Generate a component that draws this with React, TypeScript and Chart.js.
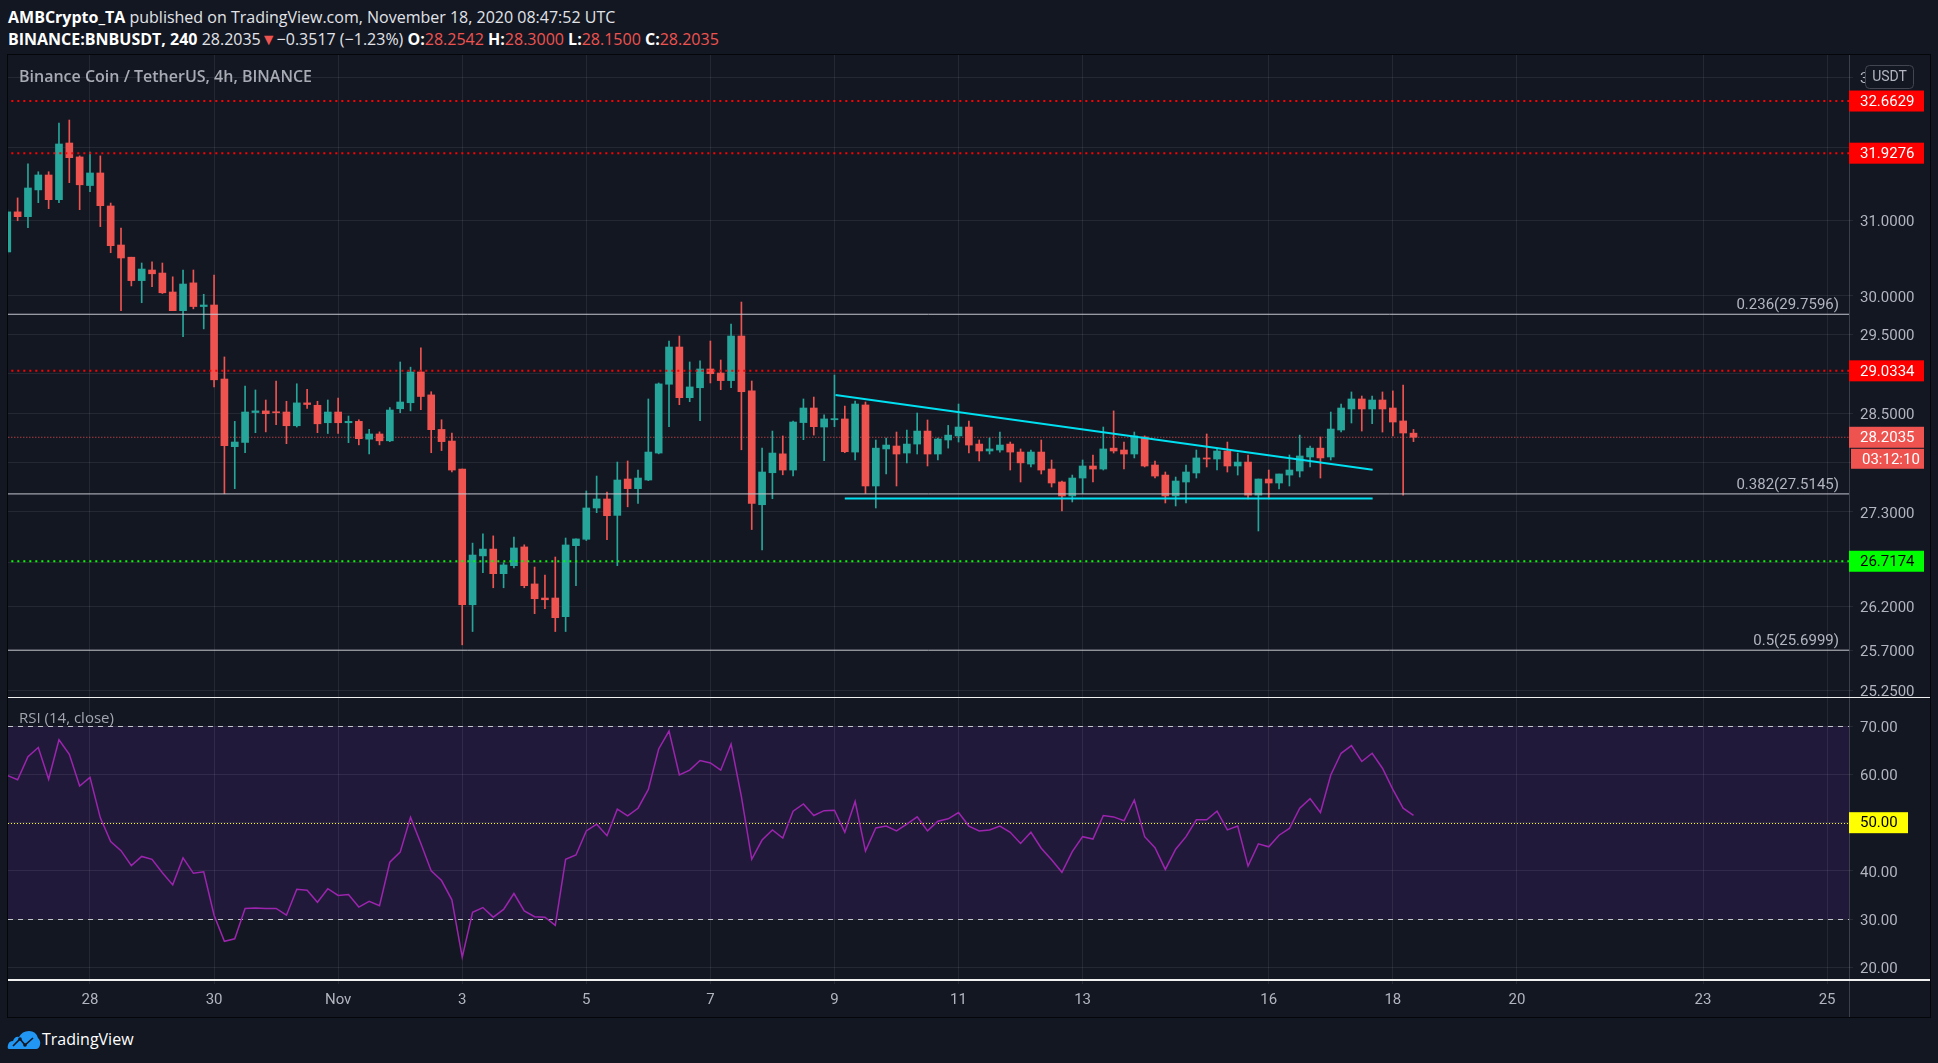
import React, { useEffect, useRef } from 'react';
import { Chart, registerables } from 'chart.js';

Chart.register(...registerables);

// 4h candles, index 0 = 28 Oct 00:00 UTC, first visible candle = index -8
const firstIndex = -8;
const opens = [
  30.58, 31.12, 31.055, 31.42, 31.625, 31.286, 32.07, 31.875,
  31.48, 31.653, 31.2, 30.673, 30.51, 30.2, 30.34, 30.3, 30.05, 29.806, 30.17, 29.86,
  29.88, 28.93, 28.088, 28.14, 28.51, 28.53, 28.516, 28.516, 28.346, 28.63, 28.6, 28.383,
  28.516, 28.383, 28.4, 28.18, 28.244, 28.16, 28.557, 28.632, 29.019, 28.73, 28.3, 28.157,
  27.815, 26.215, 26.78, 26.86, 26.573, 26.666, 26.885, 26.454, 26.292, 26.292, 26.079, 26.9,
  26.975, 27.346, 27.454, 27.258, 27.694, 27.578, 27.682, 28.01, 28.864, 29.337, 28.695, 28.82,
  29.057, 29.006, 28.91, 29.478, 28.78, 27.385, 27.77, 28.0, 27.803, 28.385, 28.566, 28.33,
  28.42, 28.43, 28.022, 28.604, 27.61, 28.06, 28.096, 28.01, 28.12, 28.28, 27.998, 28.17,
  28.22, 28.33, 28.12, 28.035, 28.047, 28.12, 28.022, 27.876, 28.022, 27.815, 27.658, 27.49,
  27.706, 27.852, 27.815, 28.07, 28.047, 27.998, 28.207, 27.864, 27.742, 27.49, 27.658, 27.767,
  27.95, 27.937, 28.035, 27.852, 27.9, 27.5, 27.694, 27.646, 27.742, 27.791, 27.962, 28.07,
  27.962, 28.293, 28.554, 28.679, 28.554, 28.666, 28.566, 28.405, 28.2542
];
const highs = [
  31.15, 31.31, 31.78, 31.67, 31.67, 32.35, 32.393, 31.89,
  31.944, 31.89, 31.24, 30.9, 30.51, 30.433, 30.447, 30.433, 30.25, 30.34, 30.34, 30.02,
  30.274, 29.21, 28.4, 28.84, 28.792, 28.666, 28.905, 28.65, 28.87, 28.8, 28.65, 28.666,
  28.69, 28.466, 28.42, 28.3, 28.27, 28.57, 29.146, 29.08, 29.325, 28.77, 28.42, 28.256,
  27.815, 26.93, 27.038, 27.015, 26.7, 27.0, 26.91, 26.65, 26.558, 26.767, 26.99, 26.98,
  27.55, 27.73, 27.538, 27.9, 27.913, 27.803, 28.679, 28.88, 29.414, 29.478, 29.146, 29.16,
  29.414, 29.171, 29.633, 29.919, 28.905, 28.07, 28.28, 28.22, 28.405, 28.679, 28.703, 28.48,
  28.981, 28.59, 28.654, 28.641, 28.17, 28.195, 28.268, 28.293, 28.504, 28.417, 28.195, 28.35,
  28.616, 28.405, 28.17, 28.195, 28.268, 28.145, 28.06, 28.047, 28.17, 27.925, 27.67, 27.742,
  27.925, 27.986, 28.33, 28.53, 28.145, 28.268, 28.22, 27.913, 27.779, 27.718, 27.864, 28.047,
  28.244, 28.07, 28.145, 28.01, 27.986, 27.694, 27.803, 27.755, 27.986, 28.23, 28.096, 28.207,
  28.516, 28.616, 28.767, 28.716, 28.716, 28.767, 28.78, 28.855, 28.3
];
const lows = [
  30.55, 31.0, 30.905, 31.245, 31.164, 31.245, 31.519, 31.15,
  31.396, 30.92, 30.57, 29.806, 30.13, 29.91, 30.12, 30.03, 29.806, 29.47, 29.83, 29.57,
  28.83, 27.517, 27.578, 28.014, 28.26, 28.27, 28.36, 28.125, 28.33, 28.56, 28.26, 28.25,
  28.25, 28.137, 28.11, 28.0, 28.11, 28.15, 28.507, 28.53, 28.545, 28.014, 28.04, 27.78,
  25.76, 25.91, 26.585, 26.41, 26.41, 26.64, 26.41, 26.113, 26.17, 25.91, 25.91, 26.434,
  26.96, 27.29, 26.97, 26.666, 27.36, 27.4, 27.674, 28.0, 28.334, 28.607, 28.645, 28.408,
  28.88, 28.796, 28.82, 28.05, 27.09, 26.85, 27.457, 27.745, 27.733, 28.174, 28.23, 27.916,
  28.334, 28.014, 27.925, 27.52, 27.346, 27.755, 27.61, 27.89, 27.998, 27.852, 27.925, 28.07,
  28.145, 28.01, 27.913, 27.998, 28.022, 27.803, 27.658, 27.84, 27.755, 27.598, 27.31, 27.418,
  27.52, 27.658, 27.803, 28.01, 27.815, 27.95, 27.84, 27.706, 27.406, 27.37, 27.406, 27.706,
  27.84, 27.803, 27.779, 27.742, 27.454, 27.073, 27.454, 27.574, 27.61, 27.718, 27.84, 27.706,
  27.925, 28.268, 28.38, 28.28, 28.37, 28.268, 28.22, 27.5, 28.15
];
const closes = [
  31.12, 31.055, 31.446, 31.625, 31.286, 32.056, 31.865, 31.49,
  31.653, 31.204, 30.664, 30.5, 30.2, 30.353, 30.29, 30.04, 29.806, 30.155, 29.86, 29.88,
  28.92, 28.1, 28.145, 28.516, 28.53, 28.495, 28.507, 28.346, 28.63, 28.61, 28.37, 28.516,
  28.383, 28.4, 28.186, 28.244, 28.16, 28.541, 28.641, 29.019, 28.71, 28.297, 28.15, 27.803,
  26.215, 26.79, 26.86, 26.573, 26.674, 26.873, 26.434, 26.284, 26.272, 26.067, 26.908, 26.979,
  27.346, 27.454, 27.254, 27.682, 27.578, 27.706, 28.022, 28.868, 29.337, 28.695, 28.83, 29.057,
  28.997, 28.91, 29.478, 28.77, 27.4, 27.779, 28.01, 27.803, 28.392, 28.566, 28.334, 28.43,
  28.434, 28.026, 28.616, 27.61, 28.07, 28.108, 27.998, 28.12, 28.28, 27.998, 28.182, 28.23,
  28.33, 28.108, 28.035, 28.06, 28.108, 28.022, 27.89, 28.022, 27.803, 27.646, 27.49, 27.706,
  27.852, 27.815, 28.06, 28.035, 27.998, 28.22, 27.852, 27.73, 27.49, 27.67, 27.779, 27.95,
  27.937, 28.035, 27.852, 27.9, 27.5, 27.694, 27.646, 27.755, 27.803, 27.974, 28.07, 27.95,
  28.305, 28.566, 28.679, 28.554, 28.666, 28.554, 28.392, 28.256, 28.2035
];
const rsiValues = [
  59.8, 58.9, 63.7, 65.6, 59.0, 67.2, 64.2, 57.6,
  59.4, 51.0, 46.1, 44.2, 41.1, 43.0, 42.4, 39.6, 37.1, 42.7, 39.5, 39.8,
  30.8, 25.4, 25.9, 32.2, 32.3, 32.2, 32.2, 30.8, 36.2, 36.0, 33.5, 36.3,
  34.9, 35.1, 32.5, 33.7, 32.8, 41.8, 43.9, 51.1, 45.7, 40.0, 38.0, 34.0,
  22.1, 31.4, 32.4, 30.4, 32.0, 35.3, 31.7, 30.5, 30.4, 28.7, 42.4, 43.3,
  48.3, 49.7, 47.3, 52.8, 51.4, 53.0, 56.9, 65.3, 69.0, 59.9, 60.9, 62.9,
  62.4, 60.9, 66.3, 55.4, 42.4, 46.4, 48.5, 46.8, 52.4, 53.9, 51.5, 52.5,
  52.6, 48.0, 54.4, 44.1, 48.9, 49.3, 48.3, 49.7, 51.2, 48.3, 50.3, 50.8,
  52.1, 49.3, 48.3, 48.5, 49.3, 48.0, 45.7, 48.0, 44.7, 42.3, 39.7, 44.0,
  47.1, 46.6, 51.5, 51.2, 50.4, 54.7, 47.1, 44.8, 40.3, 44.5, 47.1, 50.6,
  50.6, 52.4, 48.5, 49.3, 41.0, 45.6, 45.0, 47.4, 48.8, 53.0, 55.0, 52.1,
  59.9, 64.4, 66.0, 62.7, 64.4, 61.3, 56.9, 53.0, 51.5
];

// time axis (days after 28 Oct) and labels
const tickDays = [0, 2, 4, 6, 8, 10, 12, 14, 16, 19, 21, 23, 26, 28];
const tickLabels = ['28', '30', 'Nov', '3', '5', '7', '9', '11', '13', '16', '18', '20', '23', '25'];
const barsPerDay = 6;

const priceTicks = [25.25, 25.7, 26.2, 26.7, 27.3, 27.9, 28.5, 29, 29.5, 30, 31, 32, 33];
const hiddenPriceLabels = [26.7, 27.9, 29, 32];
const rsiTicks = [20, 30, 40, 50, 60, 70];

const resistanceLevels = [32.6629, 31.9276, 29.0334];
const supportLevels = [26.7174];
const fibRatios = ['0.236', '0.382', '0.5'];
const fibPrices = [29.7596, 27.5145, 25.6999];
const lastPrice = 28.2035;
const countdown = '03:12:10';
const trendX = [72.1, 124.05];
const trendY = [28.73, 27.807];
const baseX = [73.0, 124.05];
const baseY = [27.46, 27.46];

const X_MIN = -7.93;
const X_MAX = 170.12;
const P_MIN = 25.18;
const P_MAX = 33.326;
const R_MIN = 17.57;
const R_MAX = 75.87;

const BG = '#131722';
const GRID = 'rgba(255,255,255,0.075)';
const UP = '#26a69a';
const DOWN = '#ef5350';
const AXIS_TEXT = '#b2b5be';
const AXIS_FONT = 'Roboto, "Liberation Sans", sans-serif';

function hLine(price: number, color: string, width: number, dash: number[], order: number) {
  return {
    type: 'line' as const,
    data: [{ x: X_MIN - 2, y: price }, { x: X_MAX + 2, y: price }],
    borderColor: color,
    borderWidth: width,
    borderDash: dash,
    pointRadius: 0,
    order,
  };
}

function axisBox(ctx: CanvasRenderingContext2D, x: number, y: number, w: number, h: number, fill: string, text: string, textColor: string) {
  ctx.fillStyle = fill;
  ctx.fillRect(x, y, w, h);
  ctx.fillStyle = textColor;
  ctx.font = `15px ${AXIS_FONT}`;
  ctx.textAlign = 'left';
  ctx.textBaseline = 'middle';
  ctx.fillText(text, x + 11, y + h / 2 + 1);
}

const pricePlugin = {
  id: 'priceDecor',
  afterDraw(chart: any) {
    const { ctx, chartArea, scales } = chart;
    const y = scales.y;
    ctx.save();
    ctx.font = `15px ${AXIS_FONT}`;
    ctx.fillStyle = AXIS_TEXT;
    ctx.textAlign = 'right';
    ctx.textBaseline = 'middle';
    fibPrices.forEach((p, k) => {
      ctx.fillText(`${fibRatios[k]}(${p.toFixed(4)})`, chartArea.right - 10, y.getPixelForValue(p) - 9);
    });
    const bx = chartArea.right;
    resistanceLevels.forEach((p) => {
      const py = y.getPixelForValue(p);
      axisBox(ctx, bx, py - 10.5, 75, 21, '#ff0000', p.toFixed(4), '#ffffff');
    });
    supportLevels.forEach((p) => {
      const py = y.getPixelForValue(p);
      axisBox(ctx, bx, py - 10.5, 75, 21, '#00ff00', p.toFixed(4), '#000000');
    });
    const ly = y.getPixelForValue(lastPrice);
    axisBox(ctx, bx, ly - 10.5, 75, 21, DOWN, lastPrice.toFixed(4), '#ffffff');
    axisBox(ctx, bx + 2, ly + 11.5, 73, 20, DOWN, countdown, '#ffffff');
    const rx = chartArea.right + 16, ry = 10, rw = 48, rh = 23;
    ctx.fillStyle = BG;
    ctx.strokeStyle = '#434651';
    ctx.lineWidth = 1;
    ctx.beginPath();
    ctx.roundRect(rx + 0.5, ry + 0.5, rw, rh, 4);
    ctx.fill();
    ctx.stroke();
    ctx.fillStyle = AXIS_TEXT;
    ctx.textAlign = 'center';
    ctx.font = `14px ${AXIS_FONT}`;
    ctx.fillText('USDT', rx + rw / 2 + 0.5, ry + rh / 2 + 1);
    ctx.restore();
  },
};

const rsiPlugin = {
  id: 'rsiDecor',
  beforeDraw(chart: any) {
    const { ctx, chartArea, scales } = chart;
    const y = scales.y;
    const top = y.getPixelForValue(70);
    const bottom = y.getPixelForValue(30);
    ctx.save();
    ctx.fillStyle = '#21193a';
    ctx.fillRect(chartArea.left, top, chartArea.right - chartArea.left, bottom - top);
    ctx.restore();
  },
  beforeDatasetsDraw(chart: any) {
    const { ctx, chartArea, scales } = chart;
    const y = scales.y;
    ctx.save();
    const line = (v: number, color: string, dash: number[]) => {
      const py = Math.round(y.getPixelForValue(v)) + 0.5;
      ctx.strokeStyle = color;
      ctx.lineWidth = 1;
      ctx.setLineDash(dash);
      ctx.beginPath();
      ctx.moveTo(chartArea.left, py);
      ctx.lineTo(chartArea.right, py);
      ctx.stroke();
    };
    line(70, '#c3c5cc', [5, 5]);
    line(30, '#c3c5cc', [5, 5]);
    line(50, '#ffff00', [1, 2]);
    ctx.restore();
  },
  afterDraw(chart: any) {
    const { ctx, chartArea, scales } = chart;
    const y = scales.y;
    ctx.save();
    const py = y.getPixelForValue(50);
    axisBox(ctx, chartArea.right, py - 10.5, 59, 21, '#ffff00', '50.00', '#000000');
    ctx.font = `15px "Open Sans", ${AXIS_FONT}`;
    ctx.fillStyle = '#a3a6af';
    ctx.textAlign = 'left';
    ctx.textBaseline = 'middle';
    ctx.fillText('RSI (14, close)', 11, 21);
    ctx.restore();
  },
};

function xScale(showLabels: boolean) {
  return {
    type: 'linear' as const,
    min: X_MIN,
    max: X_MAX,
    bounds: 'data' as const,
    offset: false,
    afterBuildTicks: (s: any) => {
      s.ticks = tickDays.map((d) => ({ value: d * barsPerDay }));
    },
    ticks: {
      display: showLabels,
      autoSkip: false,
      maxRotation: 0,
      padding: 7,
      color: AXIS_TEXT,
      font: { family: AXIS_FONT, size: 15 },
      callback: (v: any) => {
        const k = tickDays.indexOf(Number(v) / barsPerDay);
        return k >= 0 ? tickLabels[k] : '';
      },
    },
    grid: { color: GRID, offset: false, drawTicks: showLabels, tickLength: 5 },
    border: { display: false },
    afterFit: (s: any) => {
      s.height = showLabels ? 38 : 0;
      s.paddingLeft = 0;
      s.paddingRight = 0;
    },
  };
}

export default function App() {
  const priceRef = useRef<HTMLCanvasElement>(null);
  const rsiRef = useRef<HTMLCanvasElement>(null);

  useEffect(() => {
    document.body.style.margin = '0';
    document.body.style.background = BG;
    const idx = opens.map((_, k) => firstIndex + k);
    const colors = opens.map((o, k) => (closes[k] >= o ? UP : DOWN));

    const priceChart = new Chart(priceRef.current as HTMLCanvasElement, {
      type: 'bar',
      data: {
        datasets: [
          {
            type: 'line',
            data: trendX.map((x, k) => ({ x, y: trendY[k] })),
            borderColor: '#00e0f0',
            borderWidth: 2,
            pointRadius: 0,
            order: 0,
          } as any,
          {
            type: 'line',
            data: baseX.map((x, k) => ({ x, y: baseY[k] })),
            borderColor: '#00e0f0',
            borderWidth: 2,
            pointRadius: 0,
            order: 0,
          } as any,
          ...resistanceLevels.map((p) => hLine(p, '#ff0000', 2, [2, 4], 0) as any),
          ...supportLevels.map((p) => hLine(p, '#00ff00', 2, [2, 4], 0) as any),
          ...fibPrices.map((p) => hLine(p, '#c4c6cd', 1, [], 0) as any),
          hLine(lastPrice, DOWN, 1, [1, 2], 5) as any,
          {
            type: 'bar',
            data: idx.map((x, k) => ({ x, y: [lows[k], highs[k]] })),
            backgroundColor: colors,
            barThickness: 1,
            grouped: false,
            order: 2,
          } as any,
          {
            type: 'bar',
            data: idx.map((x, k) => ({ x, y: [opens[k], closes[k]] })),
            backgroundColor: colors,
            barThickness: 7,
            minBarLength: 1,
            grouped: false,
            order: 1,
          } as any,
        ],
      },
      options: {
        responsive: false,
        maintainAspectRatio: false,
        animation: false,
        events: [],
        layout: { padding: 0 },
        plugins: { legend: { display: false }, tooltip: { enabled: false } },
        scales: {
          x: xScale(false) as any,
          y: {
            type: 'logarithmic',
            position: 'right',
            min: P_MIN,
            max: P_MAX,
            bounds: 'data',
            afterBuildTicks: (s: any) => {
              s.ticks = priceTicks.map((v) => ({ value: v }));
            },
            ticks: {
              autoSkip: false,
              padding: 7,
              labelOffset: 2,
              color: AXIS_TEXT,
              font: { family: AXIS_FONT, size: 15 },
              callback: (v: any) => (hiddenPriceLabels.includes(Number(v)) ? '' : Number(v).toFixed(4)),
            },
            grid: { color: GRID, drawTicks: true, tickLength: 4 },
            border: { display: false },
            afterFit: (s: any) => {
              s.width = 81;
              s.paddingTop = 0;
              s.paddingBottom = 0;
            },
          } as any,
        },
      },
      plugins: [pricePlugin],
    });

    const rsiChart = new Chart(rsiRef.current as HTMLCanvasElement, {
      type: 'line',
      data: {
        datasets: [
          {
            data: rsiValues.map((v, k) => ({ x: firstIndex + k, y: v })),
            borderColor: '#9c24ae',
            borderWidth: 1.5,
            pointRadius: 0,
            tension: 0,
          },
        ],
      },
      options: {
        responsive: false,
        maintainAspectRatio: false,
        animation: false,
        events: [],
        layout: { padding: 0 },
        plugins: { legend: { display: false }, tooltip: { enabled: false } },
        scales: {
          x: xScale(true) as any,
          y: {
            type: 'linear',
            position: 'right',
            min: R_MIN,
            max: R_MAX,
            bounds: 'data',
            afterBuildTicks: (s: any) => {
              s.ticks = rsiTicks.map((v) => ({ value: v }));
            },
            ticks: {
              autoSkip: false,
              padding: 7,
              labelOffset: 2,
              color: AXIS_TEXT,
              font: { family: AXIS_FONT, size: 15 },
              callback: (v: any) => Number(v).toFixed(2),
            },
            grid: { color: GRID, drawTicks: true, tickLength: 4 },
            border: { display: false },
            afterFit: (s: any) => {
              s.width = 81;
              s.paddingTop = 0;
              s.paddingBottom = 0;
            },
          } as any,
        },
      },
      plugins: [rsiPlugin],
    });

    return () => {
      priceChart.destroy();
      rsiChart.destroy();
    };
  }, []);

  const hdr: React.CSSProperties = {
    position: 'absolute',
    left: 8,
    fontFamily: '"Open Sans", sans-serif',
    fontSize: 16,
    lineHeight: '20px',
    color: '#e1e3e8',
    whiteSpace: 'nowrap',
  };
  const red = { color: '#ef5350' };
  const bold = { fontWeight: 700, color: '#ffffff' };

  return (
    <div style={{ position: 'absolute', left: 0, top: 0, width: 1938, height: 1063, background: BG, overflow: 'hidden' }}>
      <div style={{ ...hdr, top: 7 }}>
        <span style={bold}>AMBCrypto_TA</span> published on TradingView.com, November 18, 2020 08:47:52 UTC
      </div>
      <div style={{ ...hdr, top: 29 }}>
        <span style={bold}>BINANCE:BNBUSDT, 240</span> 28.2035<span style={red}>▼</span>−0.3517 (−1.23%){' '}
        <span style={bold}>O:</span><span style={red}>28.2542</span> <span style={bold}>H:</span>
        <span style={red}>28.3000</span> <span style={bold}>L:</span><span style={red}>28.1500</span>{' '}
        <span style={bold}>C:</span><span style={red}>28.2035</span>
      </div>
      <div style={{ position: 'absolute', left: 7, top: 54, width: 1922, height: 962, border: '1px solid #05060a' }} />
      <div style={{ position: 'absolute', left: 1849, top: 55, width: 1, height: 962, background: '#3b3f4b' }} />
      <canvas ref={priceRef} width={1922} height={642} style={{ position: 'absolute', left: 8, top: 55, width: 1922, height: 642 }} />
      <canvas ref={rsiRef} width={1922} height={319} style={{ position: 'absolute', left: 8, top: 698, width: 1922, height: 319 }} />
      <div style={{ position: 'absolute', left: 8, top: 697, width: 1922, height: 1, background: '#f0f0f0' }} />
      <div style={{ position: 'absolute', left: 8, top: 979, width: 1922, height: 2, background: '#f0f0f0' }} />
      <div
        style={{
          position: 'absolute',
          left: 19,
          top: 66,
          fontFamily: '"Open Sans", sans-serif',
          fontWeight: 600,
          fontSize: 16,
          lineHeight: '20px',
          color: '#a8abb4',
          whiteSpace: 'nowrap',
        }}
      >
        Binance Coin / TetherUS, 4h, BINANCE
      </div>
      <svg style={{ position: 'absolute', left: 7, top: 1029 }} width={34} height={22} viewBox="0 0 34 22">
        <path d="M2 20 Q0 20 1 16 Q2 12 6 12 Q8 7 12 8 Q15 2 22 2 Q29 2 31 9 Q34 12 33 16 Q32 20 29 20 Z" fill="#2196f3" />
        <path d="M6 17 L13 10 L18 16 L26 9" fill="none" stroke="#131722" strokeWidth="1.6" />
        <circle cx="13" cy="10" r="1.8" fill="#131722" />
        <circle cx="18" cy="16" r="1.8" fill="#131722" />
      </svg>
      <div
        style={{
          position: 'absolute',
          left: 42,
          top: 1029,
          fontFamily: '"Open Sans", sans-serif',
          fontSize: 16,
          lineHeight: '20px',
          color: '#ffffff',
        }}
      >
        TradingView
      </div>
    </div>
  );
}
